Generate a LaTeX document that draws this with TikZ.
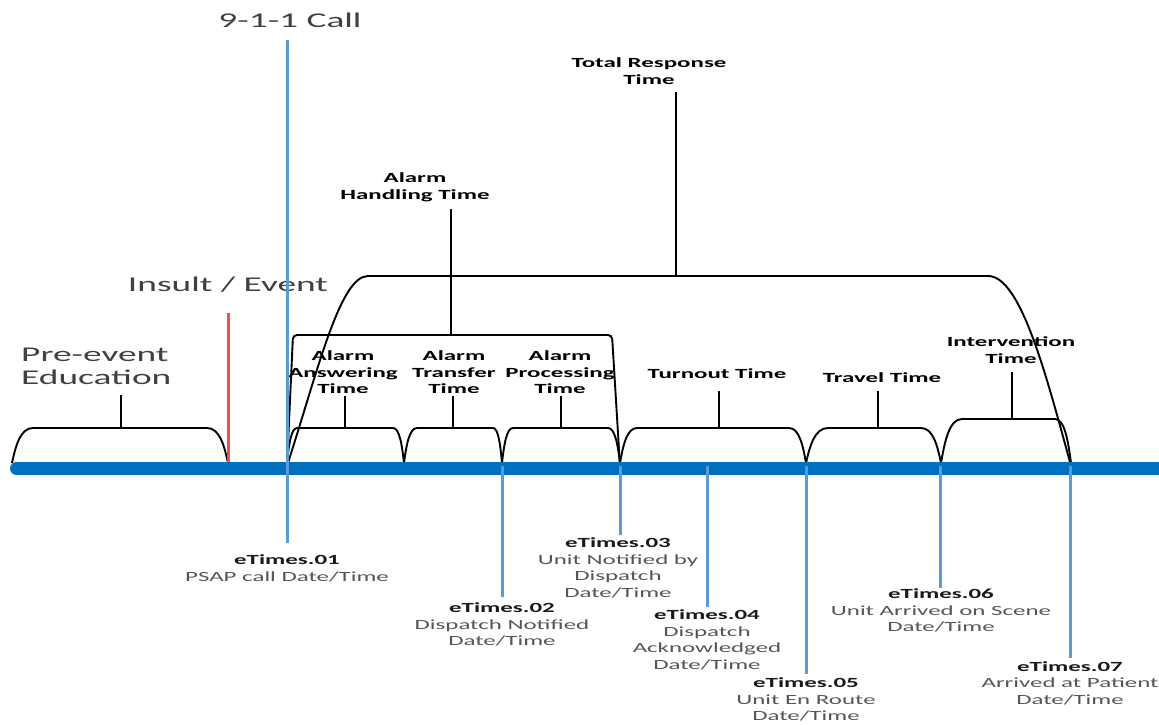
\documentclass[tikz,border=0pt]{standalone}
\usepackage{fontspec}
\newfontfamily\labfont[FakeStretch=1.78]{Carlito}
\definecolor{barblue}{RGB}{0,112,192}
\definecolor{lineblue}{RGB}{91,155,213}
\definecolor{evred}{RGB}{225,85,85}
\definecolor{txtgray}{RGB}{64,64,64}
\definecolor{descgray}{RGB}{85,85,85}
\definecolor{etblack}{RGB}{25,25,25}
\tikzset{
  bigl/.style={font=\labfont\fontsize{21}{23}\selectfont, text=txtgray, inner sep=0pt, align=left},
  brl/.style={font=\labfont\bfseries\fontsize{14}{16.6}\selectfont, text=black, inner sep=0pt, align=center},
  etl/.style={font=\labfont\fontsize{14}{16.6}\selectfont, text=descgray, inner sep=0pt, align=center},
  brk/.style={line width=1.9pt, black},
  ticksty/.style={line width=2.8pt, black},
  vblue/.style={line width=3pt, lineblue},
}
% bracket: x0, x1, ytop, left curve width, right curve width
\newcommand\mybrack[5]{\draw[brk] (#1,463) .. controls ({#1+#4*0.18},{463-(463-#3)*0.5}) and ({#1+#4*0.4},#3) .. ({#1+#4},#3) -- ({#2-#5},#3) .. controls ({#2-#5*0.4},#3) and ({#2-#5*0.18},{463-(463-#3)*0.5}) .. (#2,463);}
\newcommand\etn[1]{\textbf{\textcolor{etblack}{#1}}}
\begin{document}
\begin{tikzpicture}[x=1pt,y=-1pt]
\useasboundingbox (0,0) rectangle (1159,725);
% points on the time line
\coordinate (pa) at (12,466);
\coordinate (pb) at (228,466);
\coordinate (pc) at (287,466);
\coordinate (pd) at (404,466);
\coordinate (pe) at (502,466);
\coordinate (pf) at (620,466);
\coordinate (p4) at (707,466);
\coordinate (pg) at (806,466);
\coordinate (ph) at (940,466);
\coordinate (pi) at (1071,466);

% labels above
\node[bigl] (call) at (290,20) {9-1-1 Call};
\node[bigl] (insult) at (228,285) {Insult / Event};
\node[bigl, anchor=west] (pre) at (21,366.5) {Pre-event\\Education};
\node[brl] (total) at (649,71) {Total Response\\Time};
\node[brl] (handl) at (415,187) {Alarm\\Handling Time};
\node[brl] (answ) at (343,372.5) {Alarm\\Answering\\Time};
\node[brl] (trans) at (454,372.5) {Alarm\\Transfer\\Time};
\node[brl] (proc) at (560,372.5) {Alarm\\Processing\\Time};
\node[brl] (turn) at (717,374) {Turnout Time};
\node[brl] (trav) at (882,378) {Travel Time};
\node[brl] (interv) at (1011,350) {Intervention\\Time};

% labels below
\node[etl] (et01) at (287,568.5) {\etn{eTimes.01}\\PSAP call Date/Time};
\node[etl] (et02) at (502,624.5) {\etn{eTimes.02}\\Dispatch Notified\\Date/Time};
\node[etl] (et03) at (618,568) {\etn{eTimes.03}\\Unit Notified by\\Dispatch\\Date/Time};
\node[etl] (et04) at (707,640) {\etn{eTimes.04}\\Dispatch\\Acknowledged\\Date/Time};
\node[etl] (et05) at (806,699.5) {\etn{eTimes.05}\\Unit En Route\\Date/Time};
\node[etl] (et06) at (941,610.5) {\etn{eTimes.06}\\Unit Arrived on Scene\\Date/Time};
\node[etl] (et07) at (1070,683) {\etn{eTimes.07}\\Arrived at Patient\\Date/Time};

% brackets
\mybrack{12}{228}{428}{21}{21}
\mybrack{287}{404}{428}{10}{11}
\mybrack{404}{502}{428}{13}{9}
\mybrack{502}{620}{428}{11}{12}
\mybrack{620}{806}{428}{17}{17}
\mybrack{806}{941}{428}{22}{20}
\mybrack{941}{1071}{419}{21}{16}
\draw[brk, rounded corners=4pt] (pc) -- (293,335) -- (612,335) -- (pf);
\draw[brk] (pc) .. controls (318,370) and (340,276) .. (368,276) -- (988,276) .. controls (1020,276) and (1045,370) .. (pi);

% ticks
\draw[ticksty] (121,428) -- (121,395);
\draw[ticksty] (345,428) -- (345,396);
\draw[ticksty] (453,428) -- (453,396);
\draw[ticksty] (561,428) -- (561,396);
\draw[ticksty] (719,428) -- (719,391);
\draw[ticksty] (878,428) -- (878,391);
\draw[ticksty] (1012,419) -- (1012,372);
\draw[ticksty] (451,335) -- (451,209);
\draw[ticksty] (676,276) -- (676,92);

% event line
\draw[line width=3pt, evred] (228,313) -- (pb);

% time bar
\draw[barblue, line width=13pt, line cap=round] (16.5,468.5) -- (1180,468.5);

% blue markers
\coordinate (c01t) at (287,40);
\coordinate (c01) at (287,543);
\coordinate (c02) at (502,597);
\coordinate (c03) at (620,535);
\coordinate (c04) at (707,607);
\coordinate (c05) at (806,674);
\coordinate (c06) at (940,588);
\coordinate (c07) at (1070,658);
\draw[vblue] (c01t) -- (c01);
\draw[vblue] (pe) -- (c02);
\draw[vblue] (pf) -- (c03);
\draw[vblue] (p4) -- (c04);
\draw[vblue] (pg) -- (c05);
\draw[vblue] (ph) -- (c06);
\draw[vblue] (1070,466) -- (c07);
\end{tikzpicture}
\end{document}
